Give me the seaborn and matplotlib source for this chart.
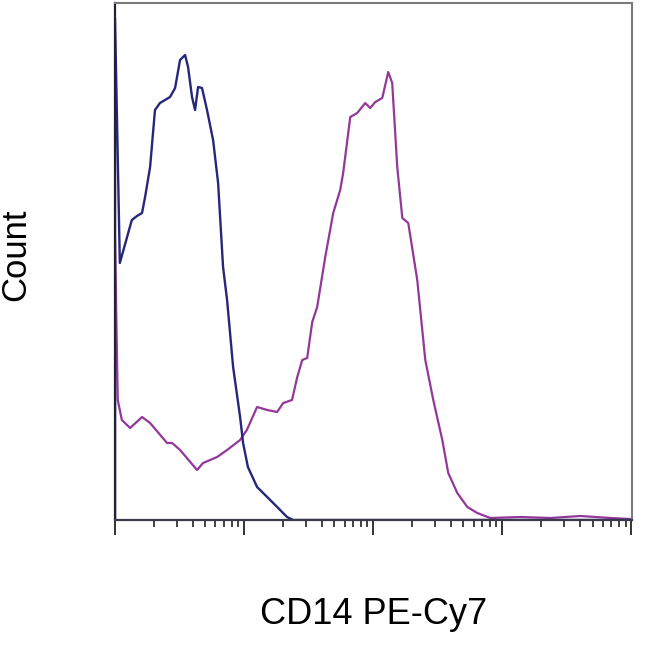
import numpy as np
import pandas as pd
import matplotlib
matplotlib.use("Agg")
import matplotlib.pyplot as plt
import seaborn as sns

# ---- data (CD14 PE-Cy7 fluorescence, event counts) ----
blue_x = [10, 10, 10.9, 13.5, 14.8, 16.2, 17.1, 18.7, 20.4, 22.3, 26.7, 29.2, 31.9,
          34.9, 36.8, 39.5, 41.7, 44.0, 47.2, 51.6, 57.5, 62.9, 68.7, 73.8, 82.2,
          93.1, 98.2, 107, 126, 168, 215, 240, 700, 4000, 20000, 100000]
blue_y = [0, 502, 257, 300, 304, 307, 323, 353, 410, 417, 423, 432, 460,
          465, 453, 423, 410, 433, 432, 410, 380, 337, 253, 220, 153,
          103, 77, 53, 33, 17, 3, 0, 0, 0, 0, 0]

mag_x = [10, 10, 10.5, 11.3, 13.1, 16.2, 18.7, 25.3, 27.7, 31.9, 43.2, 48.1, 61.8,
         73.8, 93.1, 105, 126, 151, 180, 201, 235, 258, 282, 308, 337, 368, 425,
         490, 555, 585, 664, 752, 867, 948, 1037, 1175, 1307, 1403, 1535, 1680,
         1868, 2193, 2531, 2918, 3428, 3812, 4479, 5356, 6398, 8070, 13800,
         23600, 40300, 68800, 98000]
mag_y = [0, 280, 120, 100, 92, 103, 97, 77, 77, 70, 50, 57, 63,
         70, 80, 90, 113, 110, 108, 117, 120, 143, 160, 162, 198, 213, 263,
         307, 330, 347, 403, 407, 417, 412, 418, 422, 448, 437, 353, 302,
         297, 240, 160, 120, 80, 47, 27, 13, 7, 2, 3,
         2, 4, 2, 1]

x_label = "CD14 PE-Cy7"
y_label = "Count"

blue_df = pd.DataFrame({"fl": blue_x, "count": blue_y})
mag_df = pd.DataFrame({"fl": mag_x, "count": mag_y})

sns.set_style("white")
plt.rcParams["font.family"] = ["Liberation Sans", "DejaVu Sans"]

fig = plt.figure(figsize=(6.5, 6.5), dpi=100)
ax = fig.add_axes([115 / 650, 1 - 520 / 650, 517 / 650, 517 / 650])

sns.lineplot(data=mag_df, x="fl", y="count", ax=ax, estimator=None, sort=False,
             color="#93389a", linewidth=1.6)
sns.lineplot(data=blue_df, x="fl", y="count", ax=ax, estimator=None, sort=False,
             color="#26267a", linewidth=1.7)

ax.set_xscale("log")
ax.set_xlim(10, 1.01e5)
ax.set_ylim(0, 517)

ax.set_yticks([])
ax.xaxis.set_major_locator(matplotlib.ticker.LogLocator(base=10, numticks=10))
ax.xaxis.set_minor_locator(matplotlib.ticker.LogLocator(base=10, subs=np.arange(2, 10), numticks=100))
ax.xaxis.set_major_formatter(matplotlib.ticker.NullFormatter())
ax.xaxis.set_minor_formatter(matplotlib.ticker.NullFormatter())
ax.tick_params(axis="x", which="major", direction="out", length=11, width=1.4,
               color="#333333", bottom=True)
ax.tick_params(axis="x", which="minor", direction="out", length=5, width=1.3,
               color="#333333", bottom=True)

for side in ["top", "right"]:
    ax.spines[side].set_color("#7a7a7a")
    ax.spines[side].set_linewidth(1.5)
ax.spines["bottom"].set_color("#3a3a4a")
ax.spines["bottom"].set_linewidth(1.6)
ax.spines["left"].set_color("#222233")
ax.spines["left"].set_linewidth(1.6)

ax.set_xlabel(x_label, fontsize=26, color="#000000")
ax.set_ylabel(y_label, fontsize=25, color="#000000")
ax.xaxis.set_label_coords(0.5, (520 - 614) / 517)
ax.xaxis.label.set_va("center")
ax.yaxis.set_label_coords((16 - 115) / 517, (520 - 255) / 517)
ax.yaxis.label.set_va("center")
ax.yaxis.label.set_ha("center")

fig.savefig("out.png", dpi=100)
